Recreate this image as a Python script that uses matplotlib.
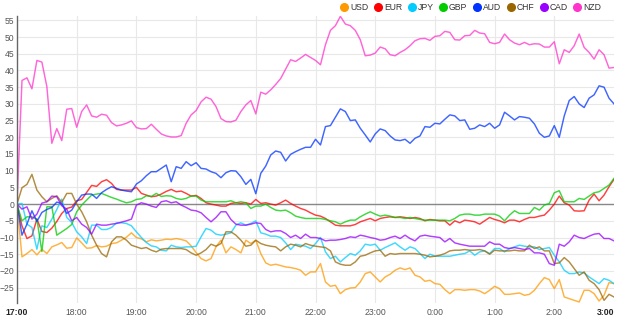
import matplotlib
matplotlib.use('Agg')
import matplotlib.pyplot as plt
import numpy as np

plt.rcParams['font.family'] = ['Liberation Sans', 'DejaVu Sans']

# currency strength index, one value every 5 minutes from 17:00 to 3:00
usd = [0, -15.8, -14.8, -13.6, -15.2, -13.5, -14.8, -12.8, -12.2, -11.5, -13.2, -13.0, -10.1, -11.6, -13.2, -13.1,
       -12.4, -12.8, -12.6, -11.8, -11.6, -10.8, -9.9, -8.6, -10.0, -10.4, -11.3, -10.7, -11.0, -10.8, -10.5,
       -10.6, -10.3, -10.6, -11.0, -12.5, -14.5, -16.3, -17.0, -16.3, -12.8, -10.8, -14.6, -12.8, -13.6, -14.6,
       -10.8, -11.8, -10.8, -14.8, -17.6, -18.3, -18.0, -18.4, -18.8, -19.0, -19.3, -19.8, -21.3, -20.3, -20.3,
       -17.8, -23.3, -24.6, -24.3, -26.8, -25.6, -25.1, -25.0, -23.3, -20.8, -20.3, -21.8, -23.3, -21.8, -21.0,
       -19.8, -19.1, -19.6, -19.1, -21.3, -21.8, -23.1, -22.8, -23.8, -24.0, -25.6, -26.8, -25.6, -25.6, -25.8,
       -25.6, -25.6, -26.0, -26.8, -25.8, -24.6, -25.3, -27.0, -27.0, -26.8, -26.6, -27.3, -27.0, -25.8, -23.8,
       -22.0, -22.6, -25.3, -22.6, -27.8, -28.3, -28.8, -29.3, -25.8, -25.8, -26.8, -29.0, -27.3, -23.5, -23.8]
eur = [0, -6.5, -10.3, -9.5, -4.5, -8.2, -8.5, -7.2, -5.2, -2.8, -1.3, -0.9, 1.0, 1.4, 3.5, 5.6, 5.3, 6.7, 7.3,
       6.2, 4.4, 4.2, 4.2, 4.2, 5.0, 3.2, 2.7, 2.2, 2.4, 3.0, 3.8,
       4.4, 3.7, 3.9, 3.2, 2.4, 2.6, 1.7, 0.4, 0.0, -0.3, -0.6, -0.6, 0.2, 0.4, 0.2, 0.4, 0.0, 1.4, 0.2, 0.4,
       0.0, -0.3, 0.4, 1.2, 0.2, -0.6, -1.3, -1.8, -2.6, -3.3,
       -3.6, -4.3, -5.3, -6.3, -6.5, -6.5, -6.5, -6.1, -5.3, -4.8, -4.3, -5.0, -4.3, -4.0, -3.8, -4.0, -3.8,
       -4.0, -4.3, -4.0, -4.3, -5.0, -4.6, -4.8, -5.0, -5.0, -6.3, -5.0, -5.6, -4.8,
       -5.0, -5.3, -6.0, -5.0, -4.0, -4.6, -5.0, -5.6, -4.8, -4.8, -5.3, -4.6, -4.0, -4.0, -3.6, -3.3, -1.8,
       0.0, 2.4, 0.4, -0.3, -2.0, -2.1, -2.0, 1.2, 3.0, 1.0, 2.7, 5.2, 7.4]
jpy = [0, 0.2, -6.0, -7.0, -13.5, -6.5, -7.0, -4.5, -1.6, 1.5, -4.0, -5.5, -8.3, -9.8, -11.8, -6.3, -6.3, -7.6,
       -7.6, -7.0, -5.6, -5.6, -5.8, -6.5, -8.3, -10.0, -11.5, -12.5, -12.8, -13.8, -14.0,
       -12.3, -12.8, -13.0, -12.8, -12.8, -12.6, -9.8, -7.3, -7.8, -9.0, -9.3, -9.0, -8.6, -6.3, -5.6, -6.3,
       -5.8, -5.0, -8.6, -9.0, -9.6, -9.6, -10.0, -11.6, -13.6, -12.0, -12.3, -12.6, -13.3, -11.8,
       -10.0, -14.3, -16.3, -15.6, -17.3, -16.0, -14.8, -15.3, -14.0, -12.0, -12.3, -12.0, -13.8, -13.0, -12.3,
       -11.6, -12.8, -13.8, -12.8, -13.3, -14.8, -16.3, -15.0, -15.6, -15.6, -15.6, -15.6, -15.3, -15.0, -14.8,
       -14.0, -15.3, -14.3, -14.0, -14.8, -13.3, -13.3, -14.3, -13.3, -12.8, -12.3, -12.6, -12.8, -12.8, -13.6,
       -13.3, -13.0, -15.3, -17.3, -19.8, -20.8, -20.8, -20.3, -20.6, -21.8, -22.8, -23.8, -22.3, -22.8, -23.8]
gbp = [0, -5.0, -3.8, -3.8, -4.5, -14.2, -0.8, -0.8, -9.3, -8.3, -7.3, -6.1, -2.3, -0.3, 1.2, 2.7, 3.0, 3.2,
       2.6, 2.0, 1.5, 0.9, 0.4, 0.7, 1.4, 1.6, 2.5, 2.3, 3.2, 2.3, 2.5,
       2.4, 1.7, 1.4, 1.7, 2.4, 2.4, 1.2, 0.7, 0.7, 0.7, 0.7, 0.7, 1.0, 0.4, 0.7, 0.4, -1.3, -0.6, -0.6, 0.0,
       -1.0, -1.8, -2.0, -1.8, -2.6, -3.6, -4.0, -4.3, -4.3, -4.3,
       -4.3, -4.6, -5.0, -5.3, -6.0, -5.3, -4.8, -4.8, -3.8, -3.0, -2.3, -3.0, -3.6, -3.3, -3.6, -4.0, -4.0,
       -4.3, -4.0, -4.3, -4.6, -4.8, -4.8, -4.8, -4.8, -4.8, -5.0, -4.3, -3.3, -3.0,
       -3.0, -3.3, -3.3, -3.0, -3.0, -3.0, -3.6, -5.0, -3.3, -2.0, -2.8, -2.8, -2.8, -1.0, -1.8, -0.3, 0.2,
       3.4, 4.0, 0.7, 0.7, 0.7, 1.7, 1.4, 2.4, 3.4, 3.7, 4.7, 5.7, 7.7]
aud = [0, -9.3, -6.0, -2.0, -5.2, -2.5, -1.6, -1.0, 0.6, 0.2, -2.8, -1.8, 0.7,
       2.7, 3.0, 3.0, 1.7, 3.4, 4.4, 5.2, 4.7, 4.2, 3.9, 3.7, 6.0, 7.0, 8.5, 9.7, 9.7, 10.7, 11.7, 6.7, 11.2,
       10.7, 12.7, 11.5, 12.4, 10.7, 10.5, 9.7, 9.2, 7.9, 9.4, 10.0, 9.9, 8.2, 5.9, 7.4, 3.1, 9.2, 11.4, 14.7,
       15.9, 15.5, 12.9, 14.9, 15.7, 16.4, 17.0, 17.0, 19.4,
       17.7, 23.2, 23.5, 26.0, 28.5, 27.7, 25.0, 25.2, 22.7, 20.7, 18.6, 21.0, 22.5, 22.0, 20.4, 19.2, 19.0,
       19.4, 18.2, 19.7, 20.4, 23.2, 23.0, 24.2, 24.0, 25.4, 26.7, 26.4, 25.0, 25.2, 22.4, 22.7, 23.7, 23.2,
       24.2, 22.7, 23.7, 27.5, 26.4, 25.2, 26.2, 26.0, 25.7, 24.0, 21.2, 20.0, 20.4, 23.5, 20.0, 26.4, 31.0,
       32.2, 30.0, 28.9, 31.7, 32.7, 35.4, 35.0, 31.7, 30.0]
chf = [0, 4.9, 5.9, 8.9, 4.2, 2.2, 0.7, 1.7, 2.5, 0.5, 3.2, 3.2, 0.0, -2.3, -5.3, -9.3, -12.3, -14.8, -15.8,
       -11.3, -9.8, -9.8, -10.8, -12.3, -12.8, -13.3, -13.0, -13.8, -14.3, -13.5, -13.3,
       -13.3, -13.3, -13.3, -13.6, -14.6, -15.3, -14.6, -13.6, -12.0, -12.6, -11.8, -8.3, -8.3, -9.3, -10.8,
       -12.6, -12.3, -10.8, -11.8, -12.3, -12.6, -12.8, -14.0, -12.8, -12.0, -12.3, -12.8, -11.8, -12.3, -12.6,
       -12.8, -13.0, -14.0, -17.3, -18.0, -18.3, -18.3, -17.3, -15.6, -15.3, -14.6, -14.0, -13.8, -15.6, -14.8,
       -15.0, -14.8, -14.8, -14.8, -14.8, -15.0, -15.3, -15.8, -15.6, -15.3, -14.8, -14.0, -13.8, -13.8, -13.6,
       -13.8, -13.8, -13.6, -14.0, -15.0, -13.8, -14.0, -14.0, -14.0, -13.8, -14.0, -14.0, -12.3, -13.3, -12.8,
       -14.0, -14.0, -17.8, -17.6, -16.0, -17.3, -19.3, -21.3, -20.3, -22.8, -23.8, -25.6, -28.8, -27.0, -27.8]
cad = [0, -1.5, -0.8, -4.5, -3.0, 0.3, 0.7, 2.4, 2.2, -0.5, -1.5, -5.0, -4.0, -6.0, -7.0, -9.0, -6.0, -6.3,
       -6.3, -6.0, -5.8, -5.4, -5.0, -4.5, -0.3, 0.4, 0.0, -0.6, -1.0, 0.7, 1.0,
       0.4, 0.7, -0.3, -1.0, -1.8, -2.0, -2.6, -4.0, -5.3, -4.0, -2.3, -2.3, -4.6, -6.0, -6.3, -6.3, -6.0,
       -5.6, -5.8, -7.6, -8.3, -8.0, -8.0, -8.8, -10.0, -9.3, -10.3, -9.0, -10.0, -10.0,
       -10.3, -11.0, -10.8, -10.8, -10.6, -10.3, -9.8, -10.0, -9.3, -9.6, -10.0, -10.3, -10.8, -10.6, -10.0,
       -9.6, -10.3, -9.3, -10.3, -11.0, -9.6, -9.3, -9.6, -9.8, -10.0, -11.3, -10.3, -11.6, -12.0, -12.3,
       -12.6, -12.6, -12.6, -12.6, -11.3, -12.0, -12.0, -13.0, -13.3, -13.0, -13.3, -13.6, -13.3, -14.6, -14.6,
       -15.0, -17.8, -18.3, -12.0, -12.6, -11.3, -9.3, -10.0, -10.3, -9.6, -9.0, -8.8, -10.3, -10.3, -11.0]
nzd = [0, 37.0, 37.8, 34.5, 43.0, 42.5, 35.2, 18.2, 22.6, 19.0, 28.4, 28.6, 23.0, 27.7, 29.7, 26.4, 26.0, 26.9,
       26.6, 24.4, 23.4, 23.7, 24.2, 24.9, 22.9, 22.5, 22.6, 23.9, 22.4, 21.0, 20.4, 20.1, 20.1, 20.5, 24.2,
       26.7, 28.0, 30.6, 32.0, 31.4, 29.2, 25.6, 24.7, 24.6, 25.1, 27.7, 29.7, 31.0, 27.0, 33.5, 32.9, 34.2,
       35.8, 37.6, 40.4, 43.2, 42.7, 43.7, 44.8, 43.9, 43.0,
       41.7, 47.7, 52.0, 53.4, 56.2, 53.9, 53.4, 52.0, 49.2, 44.4, 44.6, 45.2, 47.0, 46.5, 44.7, 44.4, 45.4,
       46.2, 47.4, 48.9, 49.5, 49.6, 49.0, 50.2, 50.4, 51.7, 51.4, 49.2, 49.1, 50.4, 50.5, 52.0, 51.2, 51.0,
       48.4, 48.0, 48.4, 50.9, 49.2, 48.2, 47.7, 48.4, 47.7, 48.0, 47.9, 47.0, 47.0, 48.6, 42.0, 46.2, 45.4,
       47.4, 50.9, 46.9, 45.4, 43.4, 46.2, 44.7, 40.7, 40.9]

names = ['USD', 'EUR', 'JPY', 'GBP', 'AUD', 'CHF', 'CAD', 'NZD']
series = [usd, eur, jpy, gbp, aud, chf, cad, nzd]
colors = ['#ff9900', '#ff0000', '#00ccff', '#00cc00', '#0033ff', '#996600', '#9900ff', '#ff33cc']
hour_labels = ['17:00', '18:00', '19:00', '20:00', '21:00', '22:00', '23:00', '0:00', '1:00', '2:00', '3:00']

fig = plt.figure(figsize=(6.25, 3.29), dpi=100)
ax = fig.add_axes([17 / 625, 1 - 303 / 329, 597 / 625, 287 / 329])

# grid first, lines on top
for v in range(-25, 56, 5):
    ax.axhline(v, color='#e8e8e8', lw=0.8, zorder=0)
for h in range(1, 10):
    ax.axvline(h * 60, color='#e8e8e8', lw=0.8, zorder=0)
ax.axhline(0, color='#888888', lw=1.0, zorder=1)

for name, vals, col in zip(names, series, colors):
    x = np.arange(len(vals)) * 5
    ax.plot(x, vals, color=col, lw=1.05, alpha=0.75, zorder=2)
    ax.plot([], [], 'o', color=col, markersize=5.5, label=name)

ax.set_xlim(0, 600)
ax.set_ylim(-29.6, 56.3)
ax.set_yticks(range(-25, 56, 5))
ax.set_xticks(range(0, 601, 60))
ax.set_xticklabels(hour_labels)
ax.tick_params(axis='both', length=0, labelsize=6.2, labelcolor='#555555')
ax.tick_params(axis='y', pad=2)
ax.tick_params(axis='x', pad=3.5)
first, last = ax.get_xticklabels()[0], ax.get_xticklabels()[-1]
for lab in (first, last):
    lab.set_fontweight('bold')
    lab.set_color('#222222')
last.set_horizontalalignment('right')

for s in ['top', 'right', 'bottom']:
    ax.spines[s].set_visible(False)
ax.spines['left'].set_color('#666666')
ax.spines['left'].set_linewidth(1.0)

leg = fig.legend(loc='upper right', bbox_to_anchor=(0.966, 1.0), ncol=8, frameon=False, fontsize=6.2,
                 borderaxespad=0, borderpad=0.3, handletextpad=0.2, columnspacing=0.6, handlelength=1.0)
for t in leg.get_texts():
    t.set_color('#333333')

fig.savefig('out.png', dpi=100)
